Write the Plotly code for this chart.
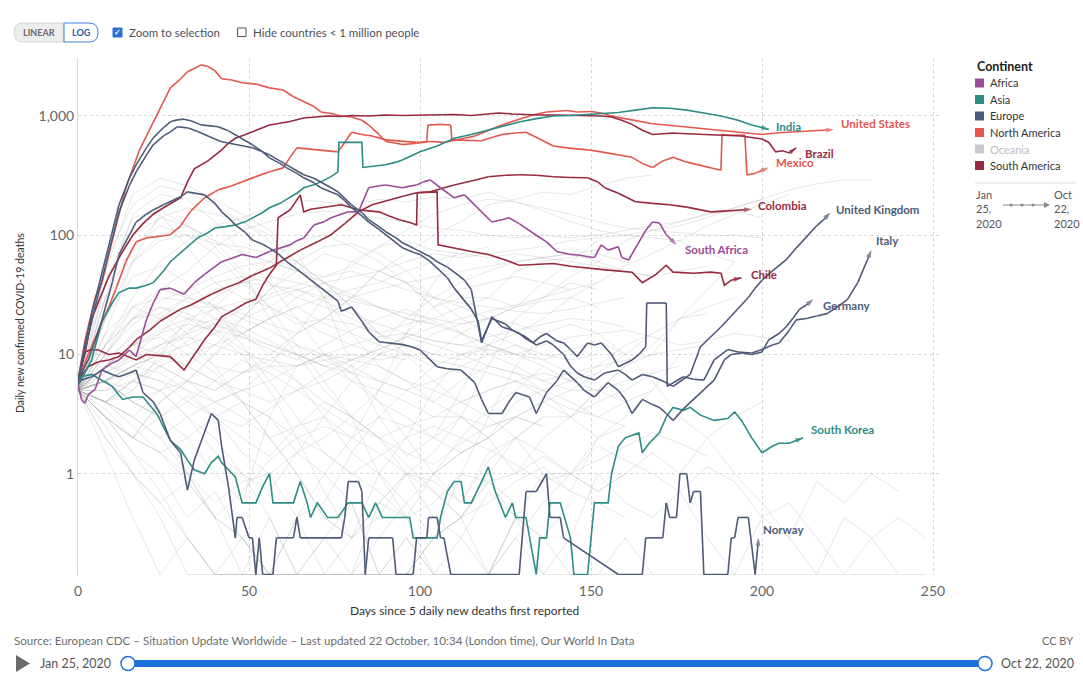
import math
import plotly.graph_objects as go

# ---------------- DATA ----------------
# Highlighted countries: (day since 5 daily deaths, 7-day avg daily deaths)
united_states = [(0,6),(2,13),(5,30),(7,40),(10,90),(14,250),(18,520),(22,890),(25,1350),(27,1720),(30,2050),(32,2350),(34,2500),(36,2680),(38,2600),(40,2400),(42,2050),(45,2000),(48,1900),(52,1850),(56,1720),(60,1650),(63,1450),(66,1310),(69,1200),(71,1080),(74,1050),(77,1000),(80,980),(83,920),(85,840),(88,700),(90,610),(93,590),(95,575),(99,590),(103,610),(107,600),(110,620),(113,650),(116,680),(120,760),(123,820),(126,880),(130,960),(133,1020),(137,1080),(140,1100),(143,1110),(146,1080),(150,1090),(153,1060),(156,1000),(160,950),(164,900),(168,860),(172,840),(176,820),(180,800),(184,780),(188,760),(192,740),(196,720),(200,700),(204,720),(208,730),(212,740),(216,750),(221,770)]
mexico = [(0,6),(3,10),(6,16),(9,25),(11,35),(14,60),(17,88),(20,95),(24,98),(27,101),(30,120),(33,160),(37,206),(41,240),(45,260),(49,290),(52,310),(56,340),(60,367),(62,450),(64,540),(67,530),(70,520),(73,510),(76,500),(78,600),(80,730),(83,700),(86,680),(90,630),(93,620),(96,610),(99,600),(102,607),(102.3,840),(106,850),(109,840),(109.3,630),(113,625),(118,620),(121,660),(124,700),(128,720),(131,730),(135,640),(139,560),(143,540),(146,530),(149,520),(153,500),(157,480),(162,450),(165,400),(168,370),(171,420),(174,450),(178,410),(181,390),(184,370),(188,350),(188.3,700),(191,690),(195,690),(195.6,320),(198,330),(202,370)]
brazil = [(0,6),(2,10),(4,20),(7,33),(9,45),(12,65),(16,100),(19,125),(22,150),(25,170),(28,190),(30,206),(32,280),(34,360),(38,420),(42,520),(44,590),(46,650),(49,700),(52,760),(56,840),(59,870),(62,900),(66,960),(70,990),(73,1000),(77,990),(80,1010),(85,1000),(90,1020),(95,1010),(100,1020),(105,1030),(110,1030),(115,1010),(120,1040),(123,1060),(127,1040),(130,1030),(135,1020),(140,1020),(145,1010),(150,1010),(153,1000),(156,980),(159,920),(162,850),(165,760),(168,700),(171,710),(174,720),(178,710),(183,700),(187,690),(190,690),(194,680),(197,660),(200,640),(202,600),(204,500),(206,510),(208,490),(210,540)]
india = [(0,5.5),(2,7),(4,9),(7,19),(10,27),(12,33),(15,36),(17,36),(20,38),(22,40),(25,50),(27,60),(31,75),(35,95),(38,105),(40,115),(43,118),(46,122),(49,130),(51,140),(54,155),(56,170),(59,185),(61,200),(64,225),(66,250),(69,265),(71,280),(74,310),(76,340),(76.3,600),(83,600),(83.3,370),(87,380),(90,390),(93,410),(95,430),(98,470),(100,500),(105,560),(110,650),(115,700),(120,760),(125,830),(129,890),(134,950),(139,1000),(144,1010),(149,1030),(154,1050),(158,1070),(163,1120),(168,1170),(173,1160),(178,1120),(183,1060),(188,1000),(193,920),(197,840),(200,800),(202,770)]
south_korea = [(0,5.5),(1,6.5),(4,6.8),(7,6.1),(10,5.4),(13,4.2),(16,4.4),(19,4.4),(23,3.2),(27,1.9),(30,1.6),(32,1.3),(34,1.08),(37,1.0),(39,1.24),(41,1.4),(42,1.24),(44,1.08),(46,0.94),(48,0.57),(52,0.57),(54,0.78),(56,1.0),(57,0.57),(63,0.57),(65,0.86),(67,0.57),(68,0.43),(70,0.57),(73,0.43),(76,0.43),(79,0.57),(83,0.57),(85,0.43),(87,0.57),(89,0.43),(97,0.43),(98,0.29),(105,0.29),(106,0.43),(108,0.71),(110,0.86),(112,0.86),(113,0.57),(115,0.57),(118,0.86),(120,1.14),(122,0.71),(125,0.43),(127,0.57),(128,0.43),(131,0.43),(134,0),(135,0.29),(137,0.29),(138,0.57),(141,0.57),(144,0.29),(145,0),(149,0),(151,0.57),(155,0.57),(156,1.0),(158,1.7),(160,2.0),(164,2.2),(165,1.5),(167,1.8),(170,2.2),(172,3.0),(174,3.6),(177,3.4),(179,3.6),(182,3.1),(186,2.8),(190,2.9),(192,3.3),(194,2.8),(197,2.0),(200,1.5),(203,1.7),(205,1.8),(208,1.8),(212,2.0)]
norway = [(0,5.8),(1,6.1),(4,6.5),(7,7.4),(10,6.8),(12,6.5),(15,7),(17,7.4),(19,4.8),(22,4.0),(24,3.2),(27,1.9),(30,1.5),(32,0.73),(34,1.3),(37,2.2),(39,3.2),(41,2.8),(42,1.7),(44,0.78),(46,0.29),(46.5,0.43),(48,0.43),(50,0.29),(51,0.29),(52,0),(53,0.29),(54,0),(57,0),(58,0.29),(63,0.29),(64,0.43),(65,0.29),(77,0.29),(78,0.43),(79,0.86),(82,0.86),(83,0.71),(84,0),(85,0.29),(92,0.29),(93,0),(98,0),(99,0.29),(102,0.29),(102.5,0.43),(105,0.43),(106,0.29),(107,0.29),(109,0),(129,0),(131,0.71),(134,0.71),(137,1.0),(138,0.43),(141,0.43),(142,0.29),(158,0),(165,0),(166,0.29),(171,0.29),(172,0.57),(173,0.43),(175,0.43),(176,1.0),(178,1.0),(179,0.57),(180,0.71),(182,0.71),(183,0),(190,0),(191,0.29),(192,0.29),(193,0.43),(196,0.43),(198,0),(199,0.29)]
united_kingdom = [(0,6.1),(1,8.7),(4,22),(7,49),(10,110),(12,180),(15,300),(17,389),(20,540),(22,655),(25,800),(27,893),(29,927),(31,940),(33,910),(36,842),(38,830),(41,811),(44,750),(46,695),(49,620),(51,573),(54,500),(56,445),(59,400),(61,367),(64,330),(66,303),(69,275),(71,250),(74,230),(76,218),(78,195),(80,170),(83,145),(85,129),(88,112),(90,101),(93,88),(95,78),(98,72),(100,69),(103,60),(105,53),(108,44),(110,36),(113,28),(115,24),(117,19),(118,13),(121,20),(123,19),(125,18),(127,16),(129,15),(131,14),(134,12),(137,13),(139,12),(142,10),(144,8),(146,7),(148,6.5),(151,6.1),(154,7),(158,7.4),(160,6.8),(162,6.1),(165,6.8),(168,6.5),(171,6),(174,5.4),(177,6.2),(179,6.8),(182,11.6),(185,14),(188,17),(191,21),(194,26),(196,30),(198,36),(200,42),(203,50),(207,62),(210,78),(214,104),(216,120),(218,135),(220,155)]
italy = [(0,6.1),(2,11),(5,25),(7,42),(10,95),(12,157),(15,260),(17,340),(20,470),(22,573),(25,680),(27,736),(29,811),(32,795),(35,740),(37,695),(40,640),(42,607),(44,590),(46,573),(49,555),(51,541),(54,500),(56,472),(59,420),(61,389),(64,350),(66,321),(69,300),(71,280),(74,250),(76,231),(78,205),(80,180),(83,155),(85,135),(88,118),(90,107),(93,95),(95,86),(98,78),(100,73),(103,66),(105,60),(108,54),(110,49),(113,42),(115,35),(118,12.5),(121,20.7),(124,17),(127,16),(129,15),(131,13.5),(133,12.5),(135,14),(137,15),(140,13),(142,12.5),(144,11),(146,9.6),(149,12.5),(151,12),(153,12.5),(156,10),(158,7.9),(160,8.5),(162,9),(164,10),(166,11.6),(166.3,27),(172,27),(172.3,5.4),(175,6),(177,6.5),(180,6.2),(183,6.1),(186,9),(188,10),(190,11),(193,10.5),(197,10.3),(200,11),(203,12),(205,12.5),(208,16),(210,19.5),(213,20),(216,21),(219,22),(222,25),(225,29),(228,40),(230,55),(232,75)]
germany = [(0,6.1),(3,9),(5,13),(7,19.5),(10,40),(12,69),(15,100),(17,129),(20,150),(22,163),(25,180),(27,191),(30,210),(32,231),(35,225),(37,218),(40,185),(42,157),(44,140),(46,122),(49,105),(51,91),(54,84),(56,78),(59,68),(61,60),(64,52),(66,47),(69,40),(71,36),(74,31),(76,28),(77,23),(80,25),(83,19),(85,15.5),(88,12.8),(91,12.5),(95,12.1),(98,11.5),(100,10.9),(103,9),(105,7.9),(108,7.6),(112,7.4),(116,5.8),(118,4.2),(120,3.2),(124,3.2),(126,4),(128,4.8),(130,4.6),(132,4.4),(134,3.2),(137,4.8),(140,6),(142,7.4),(146,5.8),(148,5),(151,4.4),(155,5.8),(158,5),(160,4.2),(162,3.2),(165,4.2),(168,3.8),(170,3.6),(172,3.2),(174,2.8),(177,3.5),(180,4.2),(183,5),(186,6.1),(189,9),(191,10),(194,10.3),(197,10),(200,10.5),(202,13.3),(205,15),(207,17),(209,20),(211,24),(213,26),(215,29)]
south_africa = [(0,5.6),(1,4.2),(2,3.9),(3,4.6),(5,5.1),(7,7.4),(10,8.5),(12,9),(15,10.9),(17,9.6),(20,19.5),(22,27),(24,35),(27,36),(31,32),(34,40),(37,47),(40,55),(42,60),(45,64),(48,69),(50,67),(52,65),(56,73),(59,78),(62,83),(64,90),(66,95),(69,122),(72,130),(74,140),(77,150),(79,157),(82,157),(85,250),(88,260),(90,264),(93,255),(95,250),(97,258),(99,264),(101,280),(103,291),(106,250),(108,225),(110,206),(113,218),(116,180),(118,157),(121,129),(124,135),(126,140),(129,125),(131,115),(134,100),(137,88),(140,73),(144,69),(147,68),(149,66),(151,65),(153,83),(155,75),(158,80),(159,65),(161,62),(164,88),(166,110),(168,129),(170,127),(172,101),(175,83)]
colombia = [(0,6.1),(3,7.9),(6,8.7),(9,9),(12,9.6),(15,11.5),(17,13.3),(21,16),(24,19),(27,21.5),(30,24),(33,26),(36,29),(39,32),(43,36),(47,40),(51,46),(56,53),(60,62),(65,75),(70,88),(74,101),(78,125),(82,157),(86,180),(91,198),(95,212),(99,227),(103,231),(106,245),(110,264),(115,285),(120,309),(125,318),(129,321),(134,318),(139,309),(144,305),(149,303),(152,280),(154,250),(158,225),(163,191),(168,185),(173,180),(178,172),(185,157),(190,160),(194,163),(197,165)]
chile = [(0,6.1),(2,10.5),(4,11),(6,10.9),(9,10),(12,10.3),(15,9.5),(17,9),(20,10),(24,9.8),(27,9.6),(31,7.4),(34,10),(37,13.3),(40,17),(42,20.7),(46,24),(49,27),(52,29),(54,38),(56,47),(58,56),(58.5,140),(62,163),(65,218),(66,157),(68,165),(71,170),(74,175),(77,180),(80,170),(82,163),(85,160),(88,157),(91,145),(94,135),(97,128),(99,122),(99.2,227),(105,231),(105.3,83),(108,80),(110,78),(115,73),(120,69),(125,62),(129,56),(134,57),(139,58),(144,55),(149,53),(155,51),(162,49),(165,40),(169,47),(172,56),(174,49),(180,48),(185,49),(188,48),(189,38),(191,42),(194,44)]

highlighted = [
    ("United States", "North America", united_states),
    ("Mexico", "North America", mexico),
    ("Brazil", "South America", brazil),
    ("Colombia", "South America", colombia),
    ("Chile", "South America", chile),
    ("India", "Asia", india),
    ("South Korea", "Asia", south_korea),
    ("South Africa", "Africa", south_africa),
    ("United Kingdom", "Europe", united_kingdom),
    ("Italy", "Europe", italy),
    ("Germany", "Europe", germany),
    ("Norway", "Europe", norway),
]
labelled = ["India", "United States", "Brazil", "Mexico", "Colombia", "United Kingdom",
            "Italy", "South Africa", "Chile", "Germany", "South Korea", "Norway"]

# Background (unselected) countries, one value every GREY_STEP days
GREY_STEP = 8
g_spain = [5, 50, 220, 300, 260, 200, 150, 110, 70, 30, 8, 3, 1.4, 2, 5, 12, 20, 30, 45, 60, 90, 110, 130, 150, 160, 140]
g_france = [6, 60, 180, 260, 230, 180, 130, 90, 60, 40, 25, 15, 12, 10, 9, 12, 15, 20, 30, 40, 55, 70, 90, 120, 150, 180, 220]
g_iran = [5, 40, 100, 140, 120, 90, 70, 60, 50, 45, 55, 80, 110, 150, 180, 200, 190, 170, 150, 130, 115, 110, 120, 140, 170, 200, 240, 270, 290, 290]
g_belgium = [5, 30, 150, 220, 200, 130, 70, 40, 20, 10, 6, 4, 3, 2, 3, 2, 4, 5, 3, 5, 8, 10, 20, 35, 60]
g_netherlands = [5, 40, 140, 160, 120, 80, 45, 25, 12, 6, 3, 2, 1, 1, 0.57, 1.5, 2, 3, 3, 5, 8, 12, 20, 25, 30]
g_sweden = [5, 15, 60, 90, 100, 85, 80, 70, 60, 40, 25, 15, 10, 6, 4, 3, 2, 1, 1, 0.71, 1, 1.5, 1, 2, 3, 4]
g_canada = [5, 20, 80, 140, 170, 150, 130, 100, 60, 30, 15, 8, 6, 5, 4, 5, 6, 7, 6, 8, 12, 15, 20, 22]
g_peru = [5, 12, 30, 60, 90, 120, 140, 170, 200, 190, 180, 200, 190, 210, 200, 230, 190, 160, 130, 110, 100, 95, 90, 70, 60]
g_russia = [5, 10, 20, 35, 50, 80, 110, 130, 150, 160, 150, 140, 130, 115, 110, 100, 95, 100, 95, 100, 110, 120, 130, 150, 170, 200]
g_argentina = [5, 6, 4, 5, 6, 5, 7, 10, 15, 20, 30, 50, 70, 100, 130, 180, 200, 230, 220, 260, 300, 320]
g_indonesia = [5, 10, 20, 25, 20, 18, 15, 20, 30, 40, 45, 50, 60, 70, 65, 70, 75, 80, 90, 95, 100, 110, 105, 100, 100, 95]
g_pakistan = [5, 6, 8, 10, 15, 25, 40, 60, 90, 100, 80, 60, 40, 25, 15, 10, 8, 6, 7, 8, 9, 10, 11, 12]
g_philippines = [5, 8, 12, 10, 8, 6, 5, 4, 5, 6, 8, 12, 20, 30, 40, 50, 60, 65, 70, 60, 50, 45]
g_iraq = [5, 4, 3, 2, 3, 4, 5, 8, 15, 30, 60, 80, 90, 75, 70, 65, 70, 65, 60, 55, 50, 45, 50, 55]
g_ecuador = [5, 20, 60, 150, 80, 40, 30, 25, 35, 40, 30, 50, 40, 25, 30, 30, 25, 28, 30, 25]
g_bolivia = [5, 3, 2, 4, 6, 10, 20, 35, 50, 70, 60, 50, 40, 30, 25, 20, 18, 15]
g_switzerland = [5, 20, 45, 55, 40, 25, 12, 6, 3, 1.5, 1, 0.71, 0.43, 0.57, 1, 0.86, 1, 1.4, 1, 2, 3, 5, 10]
g_portugal = [5, 12, 25, 30, 28, 20, 15, 12, 10, 8, 6, 5, 4, 3, 3, 2.5, 3, 4, 5, 7, 10, 15]
g_ireland = [5, 10, 25, 35, 30, 25, 15, 10, 6, 3, 1.5, 1, 0.57, 0.29, 0.43, 0.86, 0.43, 1, 0.71, 2, 2.5]
g_romania = [5, 8, 15, 20, 25, 25, 22, 18, 15, 20, 30, 35, 40, 45, 50, 55, 60, 65, 70, 75]
g_poland = [5, 8, 12, 15, 18, 16, 14, 12, 10, 8, 7, 10, 12, 10, 15, 20, 25, 40, 60, 90]
g_austria = [5, 12, 20, 22, 15, 8, 4, 2, 1, 0.43, 0.29, 0.57, 0.43, 1, 1.5, 2, 1, 2, 3, 4, 5, 7]
g_denmark = [5, 8, 12, 14, 10, 7, 4, 3, 1.5, 1, 0.57, 0.14, 0, 0.29, 0.43, 0.14, 0.29, 0.57, 1, 0.71, 1]
g_egypt = [5, 6, 8, 10, 12, 15, 20, 35, 60, 80, 85, 70, 50, 30, 20, 15, 12, 10, 9, 10]
g_algeria = [5, 15, 25, 20, 12, 8, 7, 8, 8, 9, 10, 9, 10, 9, 8, 7, 6, 5, 6, 7]
g_morocco = [5, 4, 6, 5, 3, 1.5, 1, 0.71, 1.5, 3, 6, 10, 15, 25, 35, 40, 45, 40, 35]
g_turkey = [5, 30, 80, 120, 100, 70, 40, 25, 18, 20, 18, 15, 18, 20, 25, 30, 50, 60, 65, 70, 60]
g_japan = [5, 4, 5, 10, 20, 15, 10, 5, 2, 0.71, 0.29, 1, 2, 5, 10, 12, 10, 8, 6, 5, 4]
g_israel = [5, 6, 8, 7, 5, 3, 1.5, 1, 0.43, 1, 2, 5, 10, 15, 18, 20, 25, 30, 40, 35]
g_dominican = [5, 8, 7, 6, 5, 4, 5, 6, 8, 10, 9, 8, 6, 4, 3, 2, 3, 2.5]
g_honduras = [5, 3, 2, 4, 6, 10, 15, 20, 25, 18, 15, 12, 10, 8, 7]
g_luxembourg = [5, 2, 1, 0.57, 0.29, 0, 0.14, 0.43, 0, 0.29, 0.57, 0.14, 0, 0, 0.29, 0.71, 0.43, 0.14, 0.29, 1, 0.57, 0.43, 0.71, 0.29, 0.14, 0.43, 0.29, 0.86, 0.57, 1.0, 0.71]
g_slovenia = [5, 3, 1.5, 1, 0.43, 0.71, 0.29, 0, 0.14, 0, 0.29, 0.43, 1, 0.86, 0.57, 1.29, 2, 1.5, 1, 1.71, 1.3, 1, 0.71, 1.14, 0.86, 0.43, 0.57, 0.29, 0.14, 0.29, 0.43, 0.29]
g_finland = [5, 4, 6, 5, 3, 2, 1, 0.43, 0.14, 0, 0.14, 0, 0.29, 0, 0, 0.14, 0.43, 0.29, 0.14, 0, 0.29, 0.14]
g_czechia = [5, 3, 2, 1.5, 1, 0.57, 0.86, 1, 1.5, 2, 3, 5, 15, 40, 80]
g_ukraine = [5, 8, 10, 12, 14, 12, 15, 20, 25, 30, 35, 40, 50, 60, 70, 80]
g_bangladesh = [5, 6, 10, 15, 25, 35, 40, 38, 35, 30, 28, 25, 22, 20, 18, 20]
g_saudi = [5, 6, 8, 12, 18, 30, 40, 45, 40, 35, 30, 25, 20, 18]
g_guatemala = [5, 8, 12, 20, 30, 40, 45, 40, 30, 25, 20, 15]
g_panama = [5, 4, 3, 5, 8, 12, 20, 25, 20, 15, 12, 10, 9]
g_hungary = [5, 6, 8, 10, 8, 6, 4, 2, 1, 0.43, 0.29, 0.57, 1, 1.5, 3, 8, 20]
g_greece = [5, 4, 3, 2, 1, 0.43, 0.29, 0.14, 0.43, 0.57, 1.5, 3, 5, 8, 10, 11]
g_serbia = [5, 6, 4, 3, 2, 1, 0.57, 3, 8, 10, 7, 4, 2, 1, 1.5, 2]
g_china = [5, 30, 60, 100, 120, 90, 50, 20, 10, 5, 3, 1, 0.43, 0.14, 0, 0.14, 0.29, 0, 0.14, 0, 0, 0, 0.14, 0, 0, 0, 0.14, 0, 0, 0, 0, 0.14]
g_australia = [5, 6, 4, 3, 1, 0.43, 0.14, 0, 0.14, 0, 0, 0.14, 0, 0.29, 1, 3, 8, 15, 18, 15, 10, 6, 3, 2, 1, 0.57, 0.29, 0.14, 0.43, 0.29, 0.14]
g_moldova = [5, 6, 5, 8, 10, 12, 10, 9, 8, 10, 12, 14, 15, 13, 12, 11, 10, 12, 14, 15, 16, 14, 12, 13, 15, 14, 13]
g_kenya = [5, 7, 9, 12, 15, 18, 14, 11, 9, 12, 16, 20, 24, 19, 15, 12, 10, 9, 11, 13, 10]
g_nigeria = [5, 4, 6, 8, 6, 5, 7, 9, 12, 10, 8, 6, 5, 4, 6, 8, 7, 5, 4, 3, 4, 5]
g_afghanistan = [5, 9, 14, 22, 30, 26, 20, 16, 12, 9, 7, 6, 5, 6, 8, 10, 12, 9, 7]
g_ethiopia = [5, 6, 7, 6, 4, 3, 2.5, 3.5, 5, 7, 9, 11, 14, 12, 10, 8, 7, 6, 5, 5, 6, 7, 8]
g_belarus = [5, 10, 18, 25, 22, 16, 11, 8, 6, 4, 3, 2, 1.5, 1.2, 1.8, 2.5, 3, 4, 3, 2]
g_nepal = [5, 5, 6, 9, 13, 18, 24, 30, 35, 28, 22, 18, 15, 13, 12, 14, 16, 18, 20, 19, 17]
g_lithuania = [5, 3, 2, 1.5, 2, 3, 4, 3, 2, 1.5, 1, 1.4, 2, 2.5, 2, 1.6, 1.2, 0.86, 1, 1.3, 1.7, 2.2, 1.8, 1.4]
g_kazakhstan = [5, 8, 12, 16, 20, 24, 28, 32, 38, 45, 50, 42, 35, 30, 27, 25, 23, 22, 24, 27, 30]
g_bulgaria = [5, 6, 4, 3, 4, 6, 9, 7, 5, 3.5, 2.5, 2, 2.5, 3, 4, 5, 6, 4.5, 3.5, 3, 2.5]
g_croatia = [5, 7, 10, 8, 6, 4, 3, 2, 2.5, 3, 2, 1.5, 1, 0.71, 0.43, 0.57, 0.86, 1.14, 0.71, 0.57, 0.43]
g_el_salvador = [5, 12, 20, 28, 35, 45, 55, 60, 50, 40, 32, 25, 20, 18, 15, 12, 10]
g_armenia = [5, 5, 7, 11, 16, 20, 17, 13, 10, 8, 9, 11, 14, 17, 20, 23, 26, 30, 35, 40]
g_cuba = [5, 1.5, 0.43, 0, 0.29, 0.14, 0, 0, 0.14, 0.29, 0, 0.57, 1, 0.43, 0.29, 0.14, 0.43]
g_estonia = [5, 2.5, 1, 0.43, 0.14, 0, 0.29, 0, 0, 0.14, 0, 0, 0.29, 0.14, 0, 0.14, 0.43, 0.29, 0.57]
g_tunisia = [5, 3, 1.5, 0.71, 0.29, 0.14, 0, 0, 0, 0.14, 0, 0.29, 0.57, 1, 2, 3.5, 5, 8]
g_albania = [5, 2, 1, 0.57, 0.86, 0.43, 0.71, 1.3, 2, 2.5, 2, 3, 2.5, 2, 1.5, 2, 3, 2.5]
g_malaysia = [5, 4, 2.5, 1.5, 0.86, 0.43, 0.29, 0.14, 0.43, 0.14, 0, 0.14, 0, 0.29, 0.43, 1, 2, 3]
g_ghana = [5, 3.5, 2, 3, 4.5, 3, 2, 1.4, 2.5, 4, 3, 2, 1.2, 0.71, 0.43, 0.86, 0.57]

grey_series = [g_spain, g_france, g_iran, g_belgium, g_netherlands, g_sweden, g_canada, g_peru,
               g_russia, g_argentina, g_indonesia, g_pakistan, g_philippines, g_iraq, g_ecuador,
               g_bolivia, g_switzerland, g_portugal, g_ireland, g_romania, g_poland, g_austria,
               g_denmark, g_egypt, g_algeria, g_morocco, g_turkey, g_japan, g_israel, g_dominican,
               g_honduras, g_luxembourg, g_slovenia, g_finland, g_czechia, g_ukraine, g_bangladesh,
               g_saudi, g_guatemala, g_panama, g_hungary, g_greece, g_serbia, g_china, g_australia,
               g_moldova, g_kenya, g_nigeria, g_afghanistan, g_ethiopia, g_belarus, g_nepal,
               g_lithuania, g_kazakhstan, g_bulgaria, g_croatia, g_el_salvador, g_armenia,
               g_cuba, g_estonia, g_tunisia, g_albania, g_malaysia, g_ghana]

continents = ["Africa", "Asia", "Europe", "North America", "Oceania", "South America"]
y_tick_vals = [1, 10, 100, 1000]
y_tick_text = ["1", "10", "100", "1,000"]
x_tick_vals = [0, 50, 100, 150, 200, 250]

# ---------------- STYLE ----------------
COLORS = {
    "Africa": "#9B4A97",
    "Asia": "#2C8C86",
    "Europe": "#4E5A78",
    "North America": "#E3574C",
    "Oceania": "#C9C9C9",
    "South America": "#972A3E",
}
GREY = "rgba(175,175,175,0.30)"
FLOOR = 1 / 7.0  # zero values sit on the bottom edge of the log axis
FONT = "Lato, 'Open Sans', sans-serif"

W, H = 1083, 677
PL, PR, PT, PB = 78, 940, 58, 575


def px(x):
    return (x - PL) / (PR - PL)


def py(y):
    return (PB - y) / (PB - PT)


def clamp(v):
    return max(v, FLOOR)


fig = go.Figure()

for vals in grey_series:
    fig.add_trace(go.Scatter(
        x=[i * GREY_STEP for i in range(len(vals))],
        y=[clamp(v) for v in vals],
        mode="lines", line=dict(color=GREY, width=1), hoverinfo="skip", showlegend=False))

label_offsets = {
    "India": (5, 3), "United States": (5, 6), "Brazil": (7, -6), "Mexico": (5, 5),
    "Colombia": (4, 4), "United Kingdom": (4, 3), "Italy": (3, 10), "South Africa": (6, -5),
    "Chile": (8, 3), "Germany": (8, -6), "South Korea": (6, 8), "Norway": (2, 8),
}

annotations = []
for name, cont, pairs in highlighted:
    xs = [p[0] for p in pairs]
    ys = [clamp(p[1]) for p in pairs]
    col = COLORS[cont]
    n = len(xs)
    fig.add_trace(go.Scatter(
        x=xs, y=ys, mode="lines+markers",
        line=dict(color=col, width=1.6),
        marker=dict(symbol="arrow", angleref="previous", size=[0] * (n - 1) + [8], color=col,
                    line=dict(width=0)),
        hoverinfo="skip", showlegend=False))
    if name in labelled:
        dx, dy = label_offsets[name]
        annotations.append(dict(
            x=xs[-1], y=math.log10(ys[-1]), xref="x", yref="y", text="<b>%s</b>" % name,
            showarrow=False, xanchor="left", yanchor="middle", xshift=dx, yshift=dy,
            font=dict(family=FONT, size=11.5, color=col)))


def ptxt(x, y, text, size=11, color="#555", xanchor="left", yanchor="middle", **kw):
    annotations.append(dict(x=px(x), y=py(y), xref="paper", yref="paper", text=text,
                            showarrow=False, xanchor=xanchor, yanchor=yanchor,
                            font=dict(family=FONT, size=size, color=color), **kw))


shapes = []


def prect(x0, y0, x1, y1, fill, line_color=None, lw=0, layer="above"):
    shapes.append(dict(type="rect", xref="paper", yref="paper", x0=px(x0), x1=px(x1),
                       y0=py(y1), y1=py(y0), fillcolor=fill,
                       line=dict(color=line_color or fill, width=lw), layer=layer))


def pill(x0, y0, x1, y1, rl, rr, fill, line_color, lw=1):
    # path with rounded corners on left (rl) / right (rr), pixel -> paper
    def P(x, y):
        return "%f,%f" % (px(x), py(y))
    d = "M " + P(x0 + rl, y0) + " L " + P(x1 - rr, y0)
    if rr:
        d += " Q " + P(x1, y0) + " " + P(x1, (y0 + y1) / 2) + " Q " + P(x1, y1) + " " + P(x1 - rr, y1)
    else:
        d += " L " + P(x1, y0) + " L " + P(x1, y1)
    d += " L " + P(x0 + rl, y1)
    if rl:
        d += " Q " + P(x0, y1) + " " + P(x0, (y0 + y1) / 2) + " Q " + P(x0, y0) + " " + P(x0 + rl, y0)
    else:
        d += " L " + P(x0, y1) + " L " + P(x0, y0)
    d += " Z"
    shapes.append(dict(type="path", xref="paper", yref="paper", path=d, fillcolor=fill,
                       line=dict(color=line_color, width=lw), layer="above"))


# --- top controls ---
pill(14, 23, 64, 42, 9, 0, "#EDEDED", "#D4D4D4")
pill(64, 23, 98, 42, 0, 9, "#FFFFFF", "#3C7FD6")
ptxt(39, 32.5, "<b>LINEAR</b>", size=9, color="#6A6A6A", xanchor="center")
ptxt(81, 32.5, "<b>LOG</b>", size=9, color="#2B5A9E", xanchor="center")
prect(113, 28, 122, 37, "#2E6FD3", "#2E6FD3", 1)
ptxt(117.5, 32.5, "<b>✓</b>", size=8, color="#FFFFFF", xanchor="center")
ptxt(127, 32.5, "Zoom to selection", size=11.5, color="#4A5060")
prect(237.5, 28, 246, 36.5, "#FFFFFF", "#555555", 1)
ptxt(251, 32.5, "Hide countries &lt; 1 million people", size=11.5, color="#4A5060")

# --- legend ---
ptxt(975, 66, "<b>Continent</b>", size=12.5, color="#222")
leg_y = [83, 99.5, 116, 132.5, 149, 165.5]
for cont, yy in zip(continents, leg_y):
    prect(975, yy - 4.5, 984, yy + 4.5, COLORS[cont])
    ptxt(988, yy, cont, size=11, color="#BBBBBB" if cont == "Oceania" else "#333")
shapes.append(dict(type="line", xref="paper", yref="paper", x0=px(975), x1=px(1076),
                   y0=py(183), y1=py(183), line=dict(color="#DDDDDD", width=1)))
ptxt(974, 186, "Jan<br>25,<br>2020", size=11, color="#555", yanchor="top", align="left")
ptxt(1052, 186, "Oct<br>22,<br>2020", size=11, color="#555", yanchor="top", align="left")
shapes.append(dict(type="line", xref="paper", yref="paper", x0=px(1003), x1=px(1046),
                   y0=py(205), y1=py(205), line=dict(color="#8A8A8A", width=1)))
for dx in [1011, 1022, 1033]:
    shapes.append(dict(type="circle", xref="paper", yref="paper", x0=px(dx - 1.6), x1=px(dx + 1.6),
                       y0=py(206.6), y1=py(203.4), fillcolor="#8A8A8A", line=dict(width=0)))
shapes.append(dict(type="path", xref="paper", yref="paper",
                   path="M %f,%f L %f,%f L %f,%f Z" % (px(1044), py(202), px(1050), py(205), px(1044), py(208)),
                   fillcolor="#8A8A8A", line=dict(width=0)))

# --- axis titles ---
ptxt(20, 323, "Daily new confirmed COVID-19 deaths", size=10.5, color="#333", xanchor="center",
     textangle=-90)
ptxt(464, 610, "Days since 5 daily new deaths first reported", size=12, color="#333", xanchor="center")

# --- footer ---
ptxt(12, 640, "Source: European CDC – Situation Update Worldwide – Last updated 22 October, 10:34 (London time), Our World In Data",
     size=11.6, color="#6E6E6E")
ptxt(1075, 640, "CC BY", size=11, color="#6E6E6E", xanchor="right")
shapes.append(dict(type="path", xref="paper", yref="paper",
                   path="M %f,%f L %f,%f L %f,%f Z" % (px(16), py(655), px(30), py(663.5), px(16), py(672)),
                   fillcolor="#6B6B6B", line=dict(width=0)))
ptxt(38, 663.5, "Jan 25, 2020", size=12.5, color="#555")
pill(128, 660, 985, 667, 3, 3, "#1B6FD8", "#1B6FD8", 0)
for hx in [128, 985]:
    shapes.append(dict(type="circle", xref="paper", yref="paper", x0=px(hx - 7), x1=px(hx + 7),
                       y0=py(670.5), y1=py(656.5), fillcolor="#FFFFFF",
                       line=dict(color="#1B6FD8", width=1.5)))
ptxt(999, 663.5, "Oct 22, 2020", size=12.5, color="#555")

fig.update_layout(
    width=W, height=H,
    margin=dict(l=PL, r=W - PR, t=PT, b=H - PB),
    paper_bgcolor="white", plot_bgcolor="white",
    font=dict(family=FONT, color="#555"),
    showlegend=False, hovermode=False,
    annotations=annotations, shapes=shapes,
    xaxis=dict(range=[0, (PR - PL) / 3.42], tickvals=x_tick_vals, showgrid=True,
               gridcolor="#D6D6D6", griddash="dot", gridwidth=1, zeroline=False, showline=False,
               ticks="", ticklabelstandoff=6, tickfont=dict(family=FONT, size=14, color="#666")),
    yaxis=dict(type="log", range=[math.log10(FLOOR) - 0.004, 3.486], tickvals=y_tick_vals,
               ticktext=y_tick_text, showgrid=True, gridcolor="#D6D6D6", griddash="dot",
               gridwidth=1, zeroline=False, showline=True, linecolor="#D9D9D9", ticks="",
               tickfont=dict(family=FONT, size=14, color="#666")),
)

fig.write_html("out.html", config={"displayModeBar": False},
               post_script="document.body.style.margin='0px';document.body.style.overflow='hidden';")
